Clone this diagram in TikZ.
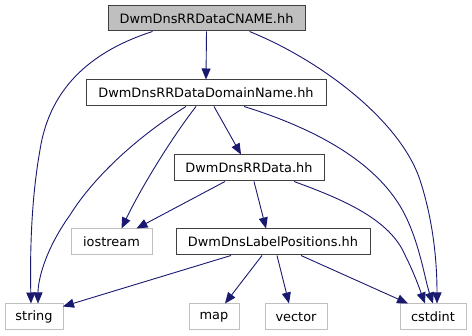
\documentclass[tikz,border=0pt]{standalone}
\usepackage{fontspec}
\setmainfont{DejaVu Sans}
\usetikzlibrary{arrows.meta,calc}
\definecolor{edgeblue}{HTML}{191970}
\definecolor{leafgrey}{HTML}{BFBFBF}
\definecolor{headgrey}{HTML}{BFBFBF}
\begin{document}
\begin{tikzpicture}[x=1pt,y=-1pt,
  box/.style={draw=black!75,line width=1pt,inner sep=0pt,minimum height=26pt,font=\fontsize{12.9}{14}\selectfont,anchor=center},
  leaf/.style={box,draw=leafgrey},
  head/.style={box,fill=headgrey},
  dep/.style={draw=edgeblue,line width=0.9pt,-{Triangle[length=11pt,width=9pt]}}]
\useasboundingbox (0,0) rectangle (472,336);
\node[head,minimum width=197pt,minimum height=25pt] (cname) at (206.5,18.5) {DwmDnsRRDataCNAME.hh};
\node[box,minimum width=240pt] (dom) at (206,93) {DwmDnsRRDataDomainName.hh};
\node[box,minimum width=150pt] (rr) at (249,168) {DwmDnsRRData.hh};
\node[leaf,minimum width=81pt] (ios) at (111.5,242) {iostream};
\node[box,minimum width=194pt] (lp) at (273,242) {DwmDnsLabelPositions.hh};
\node[leaf,minimum width=58pt] (str) at (34,317) {string};
\node[leaf,minimum width=50pt] (map) at (214,317) {map};
\node[leaf,minimum width=62pt] (vec) at (296,317) {vector};
\node[leaf,minimum width=66pt] (cst) at (433,317) {cstdint};
% edges
\draw[dep] (cname.south) -- (dom.north);
\draw[dep] ([xshift=-54pt]cname.south) .. controls (95,50) and (50,85) .. (40,150) .. controls (31,200) and (30,255) .. ([xshift=-3pt]str.north);
\draw[dep] ([xshift=43pt]cname.south) .. controls (320,60) and (400,120) .. (420,180) .. controls (433,220) and (437,260) .. ([xshift=4pt]cst.north);
\draw[dep] ([xshift=-20pt]dom.south) .. controls (140,135) and (95,175) .. (70,215) .. controls (45,250) and (38,280) .. ([xshift=4pt]str.north);
\draw[dep] ([xshift=-10pt]dom.south) .. controls (170,140) and (140,190) .. ([xshift=10pt]ios.north);
\draw[dep] ([xshift=8pt]dom.south) -- ([xshift=-8pt]rr.north);
\draw[dep] ([xshift=38pt]dom.south) .. controls (320,130) and (380,165) .. (405,215) .. controls (420,245) and (425,280) .. (cst.north);
\draw[dep] ([xshift=-24pt]rr.south) -- ([xshift=25pt]ios.north);
\draw[dep] ([xshift=5pt]rr.south) -- ([xshift=-7pt]lp.north);
\draw[dep] ([xshift=45pt]rr.south) .. controls (345,200) and (390,220) .. (405,255) .. controls (415,275) and (420,290) .. ([xshift=-8pt]cst.north);
\draw[dep] ([xshift=-42pt]lp.south) -- ([xshift=29pt,yshift=-3pt]str.north);
\draw[dep] ([xshift=-11pt]lp.south) -- ([xshift=11pt]map.north);
\draw[dep] ([xshift=4pt]lp.south) -- ([xshift=-7pt]vec.north);
\draw[dep] ([xshift=28pt]lp.south) -- ([xshift=-25pt]cst.north);
\end{tikzpicture}
\end{document}
